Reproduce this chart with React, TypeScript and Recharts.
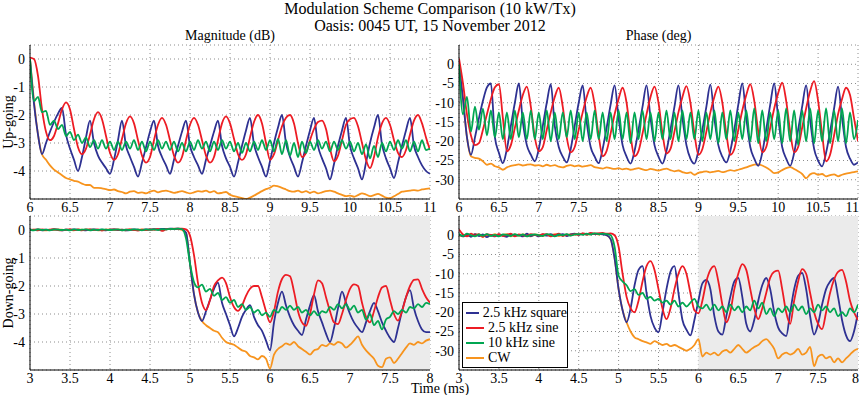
import React from "react";
import { LineChart, Line, XAxis, YAxis, CartesianGrid, ReferenceArea } from "recharts";

// sample spacing (ms) of every series below
const STEP = 0.05;
const UP_T0 = 6;
const DN_T0 = 3;

const upTicksX = [6, 6.5, 7, 7.5, 8, 8.5, 9, 9.5, 10, 10.5, 11];
const dnTicksX = [3, 3.5, 4, 4.5, 5, 5.5, 6, 6.5, 7, 7.5, 8];
const magTicksY = [-4, -3, -2, -1, 0];
const phaseTicksY = [-30, -25, -20, -15, -10, -5, 0];

// ---- Up-going, magnitude (dB), t = 6..11 ms
const upMagSquare = [
  0, -1.6, -2.7, -3.4, -3.0, -2.6, -2.25, -1.95, -1.75, -2.7,
  -3.2, -3.6, -4.0, -3.5, -2.8, -2.2, -3.0, -3.45, -3.7, -3.9,
  -4.1, -3.6, -2.9, -2.2, -3.1, -3.5, -3.85, -4.2, -3.7, -3.15,
  -2.6, -2.2, -3.1, -3.5, -3.8, -4.1, -3.6, -3.1, -2.6, -2.2,
  -3.1, -3.5, -3.8, -4.1, -3.6, -3.1, -2.6, -2.2, -3.1, -3.55,
  -3.85, -4.2, -3.7, -3.1, -2.55, -2.1, -3.05, -3.5, -3.85, -4.2,
  -3.65, -3.0, -2.45, -2.0, -3.0, -3.5, -3.85, -4.2, -3.7, -3.1,
  -2.55, -2.1, -3.1, -3.55, -3.9, -4.3, -3.75, -3.1, -2.55, -2.1,
  -3.1, -3.55, -3.9, -4.3, -3.7, -3.0, -2.45, -2.0, -3.05, -3.55,
  -3.9, -4.25, -3.7, -3.1, -2.55, -2.1, -3.1, -3.5, -3.8, -4.0,
  -4.1,
];
const upMagSine = [
  0.05, 0.0, -0.6, -1.8, -2.6, -2.9, -2.75, -2.3, -1.8, -1.55,
  -1.8, -2.5, -3.15, -3.4, -3.2, -2.7, -2.15, -1.9, -2.15, -2.75,
  -3.35, -3.6, -3.4, -2.85, -2.3, -2.05, -2.3, -2.9, -3.45, -3.7,
  -3.5, -2.9, -2.35, -2.1, -2.35, -2.9, -3.45, -3.7, -3.5, -2.9,
  -2.35, -2.1, -2.35, -2.9, -3.45, -3.7, -3.5, -2.9, -2.3, -2.05,
  -2.3, -2.85, -3.4, -3.6, -3.4, -2.8, -2.25, -2.0, -2.3, -3.0,
  -3.6, -3.4, -2.9, -2.4, -2.1, -2.0, -2.3, -3.0, -3.5, -3.35,
  -2.9, -2.5, -2.25, -2.2, -2.5, -3.2, -3.65, -3.45, -2.9, -2.35,
  -2.15, -2.1, -2.4, -3.0, -3.6, -3.9, -3.5, -2.8, -2.3, -2.1,
  -2.35, -2.9, -3.35, -3.5, -3.25, -2.7, -2.2, -2.0, -2.3, -2.8,
  -3.25,
];
const upMag10k = [
  0, -1.5, -1.35, -1.9, -1.85, -2.35, -2.2, -2.5, -2.35, -2.75,
  -2.6, -2.9, -2.7, -3.0, -2.8, -3.15, -2.9, -3.2, -2.9, -3.2,
  -2.95, -3.25, -2.95, -3.25, -2.95, -3.2, -2.9, -3.25, -2.95, -3.3,
  -2.95, -3.25, -2.9, -3.2, -2.95, -3.25, -2.95, -3.3, -3.0, -3.3,
  -2.95, -3.25, -2.9, -3.2, -2.95, -3.3, -2.95, -3.25, -2.9, -3.2,
  -2.95, -3.3, -3.0, -3.35, -3.0, -3.3, -2.95, -3.25, -2.9, -3.25,
  -2.9, -3.3, -2.85, -3.4, -2.9, -3.45, -3.0, -3.5, -2.95, -3.35,
  -2.95, -3.25, -2.9, -3.2, -2.95, -3.3, -2.95, -3.25, -2.9, -3.2,
  -2.95, -3.3, -3.0, -3.4, -3.05, -3.55, -3.1, -3.5, -3.0, -3.3,
  -2.95, -3.25, -2.9, -3.2, -2.9, -3.3, -2.95, -3.3, -2.9, -3.25,
  -3.2,
];
const upMagCw = [
  0, -1.5, -2.7, -3.4, -3.6, -3.8, -3.95, -4.05, -4.15, -4.25,
  -4.3, -4.35, -4.38, -4.45, -4.5, -4.5, -4.6, -4.6, -4.62, -4.65,
  -4.68, -4.66, -4.72, -4.75, -4.8, -4.74, -4.72, -4.78, -4.76, -4.8,
  -4.74, -4.7, -4.76, -4.72, -4.7, -4.74, -4.78, -4.75, -4.72, -4.76,
  -4.8, -4.76, -4.72, -4.74, -4.7, -4.76, -4.72, -4.8, -4.78, -4.75,
  -4.85, -4.9, -4.93, -4.97, -5.0, -4.95, -4.88, -4.8, -4.72, -4.65,
  -4.6, -4.52, -4.55, -4.6, -4.66, -4.72, -4.74, -4.7, -4.76, -4.72,
  -4.78, -4.74, -4.8, -4.76, -4.72, -4.7, -4.74, -4.8, -4.85, -4.9,
  -4.88, -4.92, -4.86, -4.8, -4.84, -4.9, -4.86, -4.82, -4.88, -4.95,
  -4.97, -4.9, -4.82, -4.74, -4.72, -4.7, -4.68, -4.7, -4.66, -4.64,
  -4.62,
];

// ---- Up-going, phase (deg), t = 6..11 ms
const upPhaseSquare = [
  0, -9, -19, -23.5, -19, -14, -9.5, -6, -5, -19,
  -23, -25.7, -22, -16, -10, -5.0, -15, -21, -23.5, -25.2,
  -22, -16, -10, -5.2, -16, -21.5, -24, -25.5, -22, -16,
  -10, -5.5, -15, -21.5, -24, -25.7, -22, -16.5, -10.5, -5.5,
  -14, -21, -24, -25.8, -22.5, -17, -11, -5.5, -14, -21,
  -24, -25.8, -22.5, -17, -11, -5.5, -14, -21, -24.5, -25.8,
  -22.5, -17, -11, -5.3, -14, -21, -24, -25.5, -22.5, -17,
  -10.5, -5, -14, -21.5, -24.5, -26.4, -23, -17, -10.5, -5,
  -14, -21.5, -24.5, -26.4, -23, -17, -11, -5.5, -14.5, -22,
  -25, -26.5, -23, -17.5, -11.5, -5.8, -14, -21.5, -24.5, -26.1,
  -25.5,
];
const upPhaseSine = [
  1.5, -5, -13, -18.5, -21, -20.5, -17, -13, -9, -6,
  -5.2, -14, -22.6, -21, -16.5, -12, -8, -5.8, -11, -19,
  -22.6, -21.5, -17, -12.5, -8.5, -6.1, -11, -19, -22.9, -21.5,
  -17, -12.5, -8.5, -6.1, -10.5, -18.5, -23.9, -22.5, -18, -13,
  -9, -6.1, -10, -18.5, -23.9, -22.5, -18, -13, -8.5, -5.8,
  -10, -18, -23.2, -22, -17.5, -12.5, -8.5, -5.7, -10, -18,
  -23.5, -22, -17.5, -12.5, -8.5, -5.8, -10, -18, -23.5, -22,
  -17, -12, -8, -5.2, -9.5, -17.5, -22.9, -21.5, -16.5, -11.5,
  -7.5, -4.8, -9.5, -17.5, -22.9, -21.5, -16.5, -11.5, -7, -4.4,
  -9.5, -18, -25.2, -23.5, -18.5, -13, -9, -6.1, -8, -14,
  -20,
];
const upPhase10k = [
  0, -13, -8.5, -17.5, -11, -17, -11.5, -18.5, -12, -19,
  -12.5, -19.5, -12.5, -19.5, -12, -19, -12.5, -19.5, -12, -19.5,
  -12.5, -19.5, -12, -20, -12.5, -19.5, -12.5, -19, -12, -19.5,
  -12.5, -20, -12.5, -19.5, -12, -19.5, -12.5, -20, -12.5, -19.5,
  -12, -19.5, -12.5, -20.5, -12.5, -19.5, -12, -19.5, -12.5, -20,
  -12.5, -19.5, -12, -19.5, -12.5, -20, -12, -19.5, -12.5, -19.5,
  -12, -20, -12.5, -19.5, -12, -20.5, -12.5, -19.5, -12, -20,
  -12.5, -19.5, -12, -20, -11.5, -20.5, -12, -20, -12.5, -19.5,
  -12, -20.5, -11.5, -20, -12, -21, -12, -20, -11.5, -20.5,
  -12, -20, -11.5, -20.5, -12, -20, -11.5, -20.5, -12.5, -19.5,
  -14.5,
];
const upPhaseCw = [
  0, -9, -19, -23.9, -24.3, -24.5, -25.2, -26.1, -25.8, -26.5,
  -26.8, -27.4, -26.8, -26.4, -26.2, -26, -26.3, -26.1, -26, -26.3,
  -26.2, -26.5, -26.1, -26.4, -26.2, -26.6, -26.8, -26.4, -26.2, -26.5,
  -26.3, -26.6, -26.4, -26.2, -26.7, -26.9, -27.1, -26.8, -27, -27.2,
  -27, -27.3, -27.1, -27.4, -27.2, -27, -27.3, -27.5, -27.2, -27.4,
  -27.6, -27.3, -27.1, -27.5, -27.8, -27.6, -28, -28.3, -28.1, -28.7,
  -28.2, -28, -27.8, -28.1, -27.9, -27.7, -28, -27.8, -27.5, -27.7,
  -27.4, -27.1, -26.8, -26.4, -26.1, -26, -26.3, -26.8, -27.5, -28.3,
  -28.1, -27.5, -27, -26.7, -27.2, -27.8, -28.5, -29.6, -28.6, -28.3,
  -28.7, -28.5, -29.1, -28.8, -28.6, -29.1, -28.7, -28.4, -28.2, -28,
  -27.8,
];

// ---- Down-going, magnitude (dB), t = 3..8 ms
const dnMagSquare = [
  0.01, 0, 0.02, -0.01, 0.01, 0, 0.02, 0.01, -0.01, 0.01,
  0, 0.02, 0.01, 0, -0.01, 0.01, 0.02, 0, 0.01, -0.01,
  0.01, 0.02, 0, 0.01, -0.01, 0, 0.02, 0.01, 0, 0.02,
  0.01, 0.03, 0.02, 0.04, 0.03, 0.05, 0.04, 0.05, 0.03, -0.1,
  -1.2, -2.3, -2.95, -3.25, -2.9, -2.5, -2.1, -1.88, -2.6, -3.0,
  -3.4, -3.8, -3.5, -3.1, -2.85, -2.68, -3.1, -3.4, -3.6, -3.95,
  -4.3, -3.3, -2.6, -2.2, -2.7, -3.1, -3.4, -3.6, -3.75, -3.2,
  -2.7, -2.33, -2.9, -3.3, -3.7, -4.0, -3.5, -2.8, -2.2, -2.6,
  -3.0, -3.3, -3.5, -3.65, -3.3, -2.9, -2.6, -2.9, -3.3, -3.6,
  -3.85, -4.0, -3.5, -2.9, -2.4, -2.15, -2.8, -3.25, -3.55, -3.65,
  -3.65,
];
const dnMagSine = [
  0, 0.01, -0.01, 0.02, 0, 0.01, 0.03, 0, -0.01, 0.01,
  0.02, 0, 0.01, -0.01, 0.02, 0.01, 0, 0.02, -0.02, 0.01,
  0, 0.02, 0.01, -0.01, 0.01, 0.02, 0, -0.02, 0.01, 0,
  0.02, 0.01, 0.03, -0.03, 0.02, 0.04, 0.03, 0.05, 0.05, 0.02,
  -0.2, -0.9, -1.9, -2.6, -2.86, -2.5, -2.0, -1.8, -1.7, -1.9,
  -2.4, -2.75, -2.89, -2.7, -2.35, -2.1, -2.0, -2.0, -2.4, -2.9,
  -3.3, -2.9, -2.2, -1.75, -1.6, -1.65, -2.2, -2.9, -3.3, -3.42,
  -3.0, -2.3, -1.8, -1.9, -2.4, -2.9, -3.3, -3.36, -3.0, -2.5,
  -2.1, -1.94, -2.0, -2.6, -3.1, -3.3, -2.9, -2.4, -2.05, -2.0,
  -2.5, -3.0, -3.24, -2.9, -2.4, -2.0, -1.78, -1.76, -2.1, -2.4,
  -2.6,
];
const dnMag10k = [
  0.01, -0.01, 0.02, 0, 0.01, -0.01, 0.02, 0.01, 0, 0.01,
  -0.01, 0.02, 0, 0.01, 0.02, -0.01, 0.01, 0, 0.02, 0.01,
  0, 0.01, 0.02, -0.01, 0.01, 0, 0.02, 0.01, -0.01, 0.02,
  0.01, 0.02, 0, 0.03, 0.02, 0.04, 0.03, 0.05, 0.03, -0.3,
  -1.2, -1.86, -2.05, -1.95, -2.2, -2.1, -2.35, -2.25, -2.5, -2.4,
  -2.6, -2.5, -2.75, -2.65, -2.85, -2.75, -2.95, -2.85, -3.05, -2.95,
  -3.1, -2.85, -2.95, -2.75, -2.85, -2.7, -2.85, -2.75, -2.95, -2.85,
  -3.05, -2.9, -3.05, -2.9, -2.95, -2.75, -2.85, -2.65, -2.8, -2.65,
  -2.85, -2.7, -2.95, -2.85, -3.2, -3.0, -3.4, -3.25, -3.55, -3.2,
  -3.1, -2.9, -3.0, -2.85, -2.95, -2.75, -2.8, -2.65, -2.75, -2.6,
  -2.65,
];
const dnMagCw = [
  0, 0.01, 0.02, 0, -0.01, 0.01, 0, 0.02, 0.01, 0,
  0.01, -0.01, 0.02, 0.01, 0, 0.02, 0.01, -0.01, 0, 0.01,
  0.02, 0, 0.01, 0.01, -0.01, 0.02, 0, 0.01, 0.02, 0,
  0.01, 0.02, 0.03, 0.02, 0.04, 0.03, 0.05, 0.04, 0.0, -0.1,
  -1.2, -2.3, -2.95, -3.25, -3.4, -3.5, -3.6, -3.65, -3.85, -4.0,
  -4.05, -4.1, -4.2, -4.3, -4.35, -4.5, -4.55, -4.62, -4.5, -4.6,
  -4.95, -4.45, -4.25, -4.15, -4.05, -4.1, -4.0, -4.15, -4.25, -4.35,
  -4.45, -4.3, -4.25, -4.1, -4.15, -4.05, -4.1, -4.0, -4.05, -4.2,
  -4.1, -3.95, -3.8, -4.1, -4.3, -4.45, -4.6, -4.85, -4.9, -4.6,
  -4.55, -4.75, -4.6, -4.4, -4.2, -4.05, -4.1, -4.0, -4.05, -3.95,
  -3.9,
];

// ---- Down-going, phase (deg), t = 3..8 ms
const dnPhaseSquare = [
  0.2, -0.3, 0.1, -0.4, 0.3, -0.2, 0.2, -0.5, 0.1, -0.3,
  0.2, -0.1, -0.4, 0.3, -0.2, 0.1, -0.3, 0.4, -0.2, 0.1,
  -0.3, 0.2, -0.1, 0.3, -0.2, 0.1, 0.3, -0.2, 0.2, 0.4,
  0.1, 0.4, 0.2, 0.5, 0.3, 0.4, 0.2, 0, -1, -6,
  -14, -19.5, -22.6, -19, -13, -9, -8, -15, -21, -24,
  -25.2, -20, -14, -9.5, -8, -15, -22, -24.5, -26, -22,
  -17, -12.5, -11.6, -14, -21, -25, -25.8, -21, -16, -12,
  -11.1, -16, -23, -25, -22, -17, -13, -11.1, -14, -20,
  -24, -25.5, -26.2, -20, -14, -10.5, -9.8, -14, -21, -25.8,
  -23, -18, -14, -12, -11.1, -16, -22, -26, -27.5, -25,
  -20,
];
const dnPhaseSine = [
  1.5, 0.2, -0.3, 0.4, -0.1, 0.3, -0.4, 0.2, 0.1, -0.2,
  0.3, -0.2, 0.1, 0.4, -0.3, 0.2, 0, -0.2, 0.3, 0.1,
  -0.1, 0.3, 0.2, -0.3, 0.1, 0.4, -0.2, 0.2, 0, 0.3,
  0.2, 0.5, 0.3, 0.6, 0.4, 0.5, 0.6, 0.4, 0.5, 0,
  -3, -10, -16, -19, -20, -17, -12, -8, -6.7, -9,
  -14, -19, -21.8, -19, -14, -10, -8, -10, -15, -19.5,
  -20.3, -17, -12, -9, -8, -12, -18, -22.6, -20, -14,
  -10, -7.5, -9, -14, -19, -21.8, -19, -15, -11, -9.5,
  -9.2, -14, -20, -23, -17, -12, -8.8, -10, -15, -20,
  -23, -24.4, -20, -15, -11.5, -9.5, -9, -12, -17, -20,
  -22,
];
const dnPhase10k = [
  0.3, -0.2, 0.4, 0, -0.3, 0.2, -0.1, 0.3, -0.2, 0.1,
  -0.3, 0.2, 0.1, -0.2, 0.3, -0.1, 0.2, -0.3, 0.1, 0.2,
  0, -0.2, 0.3, 0.1, -0.3, 0.2, 0, 0.3, -0.1, 0.2,
  0.3, 0.1, 0.4, 0.2, 0.5, 0.3, 0.4, 0.3, 0, -3,
  -10.5, -12, -13, -14.5, -14, -15.5, -15, -16.5, -16, -17,
  -16.5, -17.5, -17, -18, -17, -18.5, -17.5, -18.5, -17.5, -16.5,
  -18.5, -19, -18, -19.5, -18, -19.5, -18.5, -20, -18, -19.5,
  -18.5, -20, -18.5, -19.5, -17, -19, -17.5, -20.5, -19, -21,
  -19, -20, -18.5, -20, -18, -19.5, -18.5, -20.5, -19, -20,
  -18, -19.5, -18.5, -20, -19, -21, -20, -21, -19, -20,
  -18,
];
const dnPhaseCw = [
  0.1, -0.3, 0.2, -0.2, 0.3, 0, -0.4, 0.2, -0.1, 0.3,
  -0.2, 0.1, 0.3, -0.3, 0.2, -0.1, 0.2, 0.1, -0.3, 0.2,
  0.1, -0.2, 0.2, 0, 0.3, -0.2, 0.1, -0.1, 0.3, 0.2,
  0.2, 0.4, 0.1, 0.3, 0.5, 0.2, 0.4, 0, -1, -6,
  -14, -19.5, -22.6, -25, -26.5, -27, -27.5, -27.8, -28.2, -27.5,
  -28, -28.5, -28.2, -28.8, -28.5, -29, -29.5, -30, -29.5, -28.5,
  -27, -31.5, -30.5, -31, -30.5, -31.2, -30.2, -29.8, -30.5, -29.5,
  -28.5, -29.5, -30.5, -29.8, -29, -28.5, -27.5, -27, -28, -29.5,
  -32, -31, -30.5, -31, -30.5, -29.5, -31, -30.5, -29, -34,
  -31.5, -31, -32, -31.5, -33, -32, -33, -32, -31, -30,
  -29.5,
];

const SERIES = [
  { key: "sq", name: "2.5 kHz square", color: "#2e3192" },
  { key: "sn", name: "2.5 kHz sine", color: "#ed1c24" },
  { key: "g", name: "10 kHz sine", color: "#00a651" },
  { key: "cw", name: "CW", color: "#f7941e" },
];
// draw order: CW underneath, then square, sine, 10 kHz
const DRAW_ORDER = ["cw", "sq", "sn", "g"];

function buildRows(t0: number, sq: number[], sn: number[], g: number[], cw: number[]) {
  return sq.map((_, i) => ({
    t: +(t0 + i * STEP).toFixed(2),
    sq: sq[i],
    sn: sn[i],
    g: g[i],
    cw: cw[i],
  }));
}

const upMagRows = buildRows(UP_T0, upMagSquare, upMagSine, upMag10k, upMagCw);
const upPhaseRows = buildRows(UP_T0, upPhaseSquare, upPhaseSine, upPhase10k, upPhaseCw);
const dnMagRows = buildRows(DN_T0, dnMagSquare, dnMagSine, dnMag10k, dnMagCw);
const dnPhaseRows = buildRows(DN_T0, dnPhaseSquare, dnPhaseSine, dnPhase10k, dnPhaseCw);

const FONT = '"Liberation Serif", "Times New Roman", serif';

// tick label in serif; keeps the last x label inside the page edge
function makeTick(limit: number) {
  return (props: any) => {
    const { x, y, payload, textAnchor, verticalAnchor } = props;
    const isX = verticalAnchor === "start";
    let anchor = textAnchor;
    let tx = x;
    if (isX && x + 7 > limit) {
      anchor = "end";
      tx = limit - 1;
    }
    return (
      <text
        x={tx}
        y={y}
        dy={isX ? "0.72em" : "0.35em"}
        textAnchor={anchor}
        fill="#000"
        fontSize={14}
        fontFamily={FONT}
      >
        {payload.value}
      </text>
    );
  };
}

interface PanelProps {
  left: number;
  top: number;
  rows: any[];
  xDomain: [number, number];
  xTicks: number[];
  yDomain: [number, number];
  yTicks: number[];
  plotWidth: number;
  shade?: [number, number];
}

function Panel({ left, top, rows, xDomain, xTicks, yDomain, yTicks, plotWidth, shade }: PanelProps) {
  const colorOf = (k: string) => SERIES.find((s) => s.key === k)!.color;
  const tick = makeTick(860 - left);
  // extra right margin so the last x tick label is not clipped by the svg
  return (
    <div style={{ position: "absolute", left, top }}>
      <LineChart
        width={30 + plotWidth + 12}
        height={179}
        data={rows}
        margin={{ top: 5, right: 12, bottom: 0, left: 0 }}
      >
        {shade && (
          <ReferenceArea
            x1={shade[0]}
            x2={shade[1]}
            y1={yDomain[0]}
            y2={yDomain[1]}
            fill="#ebebeb"
            fillOpacity={1}
            stroke="none"
          />
        )}
        <CartesianGrid stroke="#8c8c8c" strokeDasharray="1 3" />
        <XAxis
          dataKey="t"
          type="number"
          domain={xDomain}
          ticks={xTicks}
          interval={0}
          allowDataOverflow
          height={20}
          tickLine={false}
          tickSize={0}
          tickMargin={3}
          axisLine={{ stroke: "#000" }}
          tick={tick}
        />
        <XAxis
          xAxisId="top"
          orientation="top"
          type="number"
          domain={xDomain}
          ticks={xTicks}
          height={0}
          tick={false}
          tickLine={false}
          axisLine={{ stroke: "#000" }}
        />
        <YAxis
          type="number"
          domain={yDomain}
          ticks={yTicks}
          interval={0}
          allowDataOverflow
          width={30}
          tickLine={false}
          tickSize={0}
          tickMargin={5}
          axisLine={{ stroke: "#000" }}
          tick={tick}
        />
        <YAxis
          yAxisId="right"
          orientation="right"
          type="number"
          domain={yDomain}
          ticks={yTicks}
          width={0}
          tick={false}
          tickLine={false}
          axisLine={{ stroke: "#000" }}
        />
        {DRAW_ORDER.map((k) => (
          <Line
            key={k}
            dataKey={k}
            type="monotone"
            stroke={colorOf(k)}
            strokeWidth={1.8}
            dot={false}
            isAnimationActive={false}
          />
        ))}
      </LineChart>
    </div>
  );
}

const abs = (s: React.CSSProperties): React.CSSProperties => ({ position: "absolute", ...s });

export default function App() {
  return (
    <div
      style={{
        position: "absolute",
        left: 0,
        top: 0,
        width: 860,
        height: 395,
        background: "#fff",
        fontFamily: FONT,
        color: "#000",
        overflow: "hidden",
      }}
    >
      <div style={abs({ left: 0, top: 0, width: 860, textAlign: "center", fontSize: 16, lineHeight: "17px" })}>
        Modulation Scheme Comparison (10 kW/Tx)
      </div>
      <div style={abs({ left: 0, top: 17, width: 860, textAlign: "center", fontSize: 16, lineHeight: "17px" })}>
        Oasis: 0045 UT, 15 November 2012
      </div>
      <div style={abs({ left: 30, top: 28, width: 400, textAlign: "center", fontSize: 14, lineHeight: "16px" })}>
        Magnitude (dB)
      </div>
      <div style={abs({ left: 459, top: 28, width: 399, textAlign: "center", fontSize: 14, lineHeight: "16px" })}>
        Phase (deg)
      </div>

      <Panel left={0} top={40} plotWidth={400} rows={upMagRows} xDomain={[6, 11]} xTicks={upTicksX} yDomain={[-5, 0.5]} yTicks={magTicksY} />
      <Panel left={429} top={40} plotWidth={399} rows={upPhaseRows} xDomain={[6, 11]} xTicks={upTicksX} yDomain={[-35, 5]} yTicks={phaseTicksY} />
      <Panel left={0} top={211} plotWidth={400} rows={dnMagRows} xDomain={[3, 8]} xTicks={dnTicksX} yDomain={[-5, 0.5]} yTicks={magTicksY} shade={[6, 8]} />
      <Panel left={429} top={211} plotWidth={399} rows={dnPhaseRows} xDomain={[3, 8]} xTicks={dnTicksX} yDomain={[-35, 5]} yTicks={phaseTicksY} shade={[6, 8]} />

      <div
        style={abs({
          left: -51,
          top: 114,
          width: 120,
          textAlign: "center",
          fontSize: 14,
          lineHeight: "16px",
          transform: "rotate(-90deg)",
        })}
      >
        Up-going
      </div>
      <div
        style={abs({
          left: -51,
          top: 285,
          width: 120,
          textAlign: "center",
          fontSize: 14,
          lineHeight: "16px",
          transform: "rotate(-90deg)",
        })}
      >
        Down-going
      </div>
      <div style={abs({ left: 340, top: 382, width: 200, textAlign: "center", fontSize: 14, lineHeight: "14px" })}>
        Time (ms)
      </div>

      {/* legend box inside the lower phase panel */}
      <div
        style={abs({
          left: 462,
          top: 302,
          width: 104,
          padding: "2px 0",
          background: "#fff",
          border: "1px solid #000",
          fontSize: 14,
          lineHeight: "15px",
        })}
      >
        {SERIES.map((s) => (
          <div key={s.key} style={{ display: "flex", alignItems: "center", height: 15 }}>
            <span style={{ display: "inline-block", width: 18, height: 2, background: s.color, marginLeft: 3, marginRight: 4 }} />
            <span style={{ whiteSpace: "nowrap" }}>{s.name}</span>
          </div>
        ))}
      </div>
    </div>
  );
}
